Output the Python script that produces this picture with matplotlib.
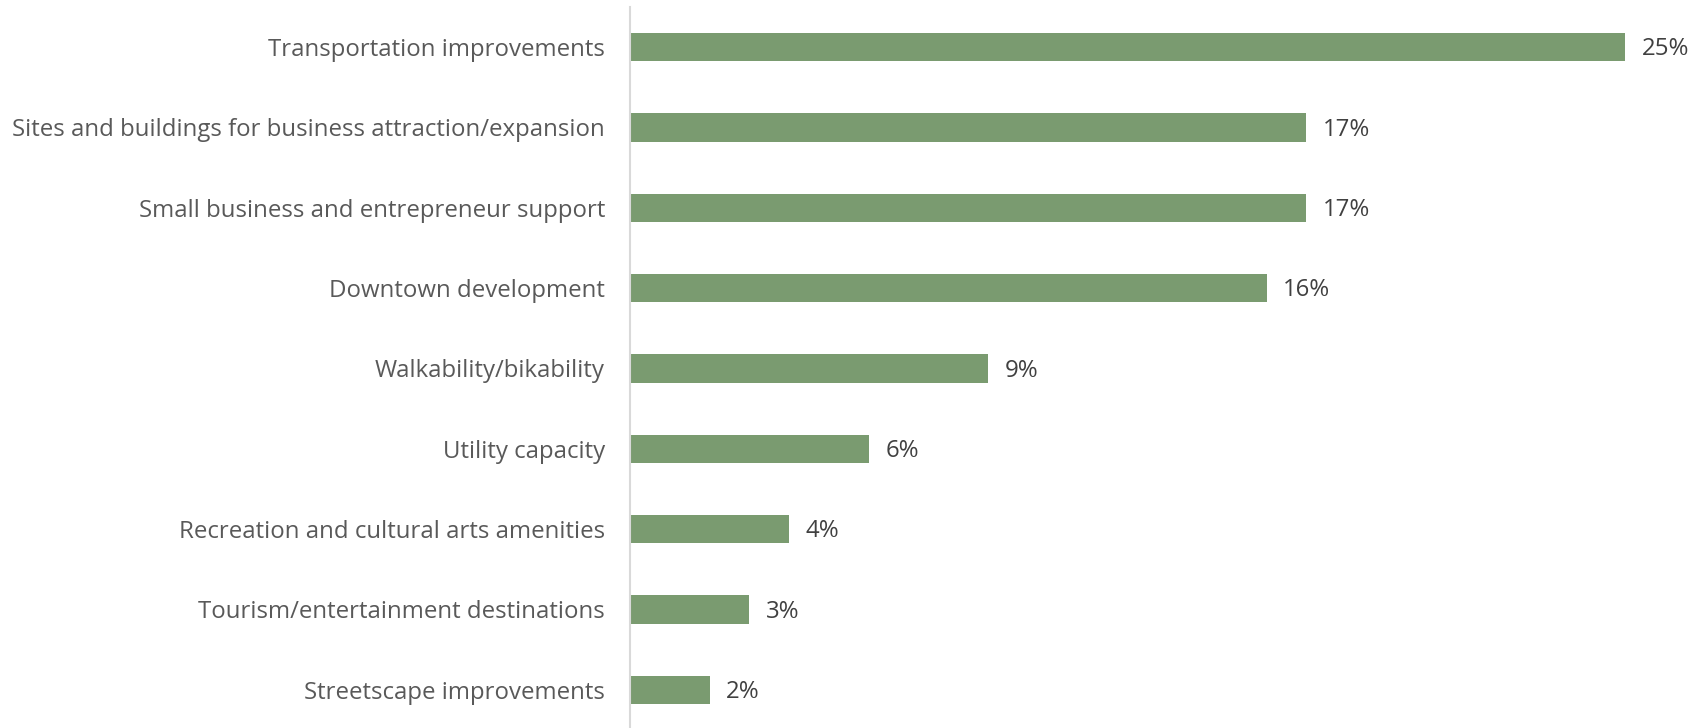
import matplotlib
matplotlib.use("Agg")
import matplotlib.pyplot as plt

categories = [
    "Transportation improvements",
    "Sites and buildings for business attraction/expansion",
    "Small business and entrepreneur support",
    "Downtown development",
    "Walkability/bikability",
    "Utility capacity",
    "Recreation and cultural arts amenities",
    "Tourism/entertainment destinations",
    "Streetscape improvements",
]
values = [25, 17, 17, 16, 9, 6, 4, 3, 2]
value_labels = [f"{v}%" for v in values]

plt.rcParams["font.family"] = ["Open Sans", "DejaVu Sans"]

fig = plt.figure(figsize=(16.98, 7.28), dpi=100)
ax = fig.add_axes([0.3710, -0.0027, 0.6290, 0.9931])

y = list(range(len(categories)))
bars = ax.barh(y, values, height=0.35, color="#7a9b70", edgecolor="none", zorder=2)

ax.set_ylim(len(categories) - 0.5, -0.5)
ax.set_xlim(0, 26.84)

ax.set_yticks(y)
ax.set_yticklabels(categories, fontsize=17.3, color="#595959")
ax.tick_params(axis="y", length=0, pad=18)
ax.set_xticks([])

for s in ["top", "right", "bottom"]:
    ax.spines[s].set_visible(False)
ax.spines["left"].set_color("#d9d9d9")
ax.spines["left"].set_linewidth(1.5)
ax.spines["left"].set_zorder(3)

for rect, lab in zip(bars, value_labels):
    ax.annotate(lab, (rect.get_width(), rect.get_y() + rect.get_height() / 2),
                xytext=(12, -1.5), textcoords="offset points",
                va="center", ha="left", fontsize=17.3, color="#404040")

fig.savefig("out.png", dpi=100)
